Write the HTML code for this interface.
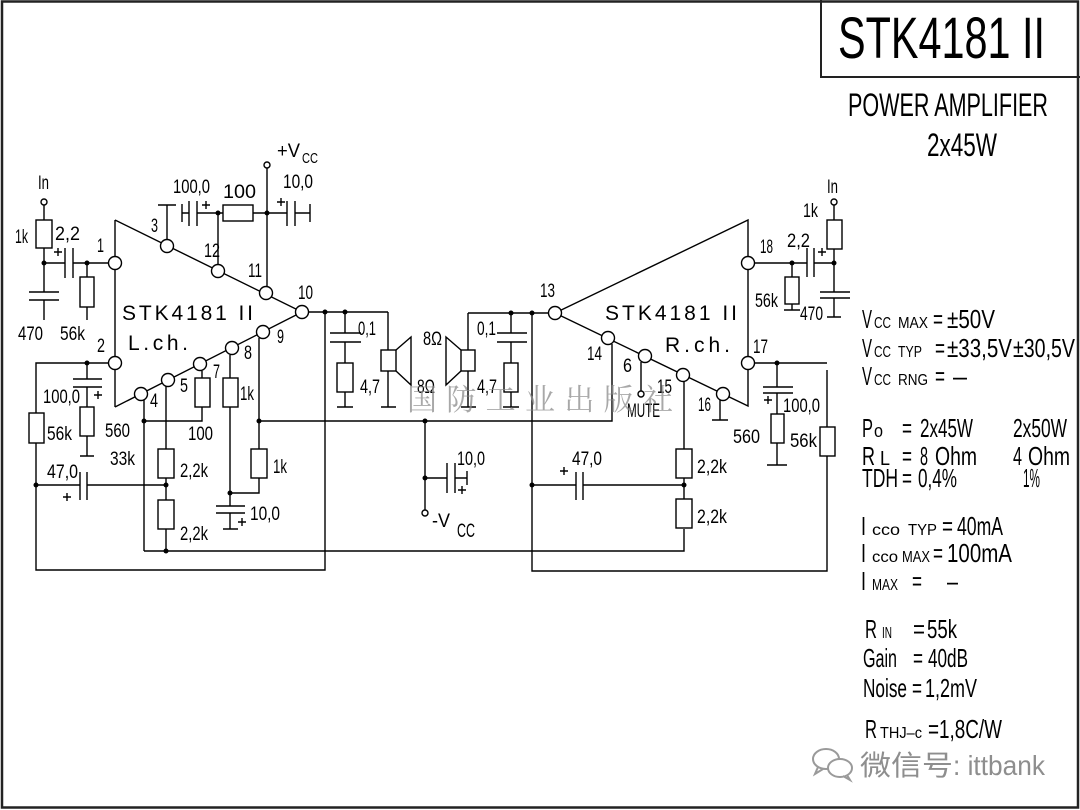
<!DOCTYPE html>
<html><head><meta charset="utf-8"><style>
html,body{margin:0;padding:0;background:#fff}
svg{display:block}
text{font-family:"Liberation Sans","Noto Sans CJK SC",sans-serif;fill:#000}
.t{font-size:19px}
.b{font-size:26px}
.s{font-size:16px}
</style></head><body>
<svg width="1080" height="810" viewBox="0 0 1080 810" xmlns="http://www.w3.org/2000/svg">
<rect x="0" y="0" width="1080" height="810" fill="#fff"/>
<rect x="2" y="1.5" width="1076" height="806" fill="none" stroke="#222" stroke-width="2.5"/>
<path d="M821 0 V77 H1080" fill="none" stroke="#222" stroke-width="2"/>

<g stroke="#000" stroke-width="1.4" fill="none">
<path d="M44 205 V292 M29 292 H59 M29 300 H59 M44 300 V320 M44 263 H65 M65 248 V278 M73 248 V278 M73 263 H108 M87 263 V277 M87 307 V320"/>
<path d="M115 220 V407 M115 220 L302 312 L115 407"/>
<path d="M167 239 V205 M158 205 H176"/>
<path d="M182 204 V222 M182 213 H189 M189 201 V226 M197 201 V226 M197 213 H223 M253 213 H287 M287 201 V226 M295 201 V226 M295 213 H310 M310 204 V222 M218 213 V264 M267 168 V287"/>
<path d="M308 312 H388 M325 312 V570 H36 V363 H108"/>
<path d="M87 363 V379 M73 379 H102 M73 387 H102 M87 387 V407 M87 436 V456 M80 456 H94"/>
<path d="M36 485 H80 M80 472 V500 M87 472 V500 M87 485 H166"/>
<path d="M166 386 V449 M166 478 V500 M166 529 V551"/>
<path d="M144 400 V551 M144 421 H202 V407 M202 371 V378"/>
<path d="M230 355 V378 M230 407 V506 M216 506 H245 M216 513 H245 M230 513 V529 M223 529 H238"/>
<path d="M259 338 V449 M259 478 V493 H230"/>
<path d="M259 421 H612 V344"/>
<path d="M144 551 H684 V529"/>
<path d="M345 312 V333 M330 333 H361 M330 342 H361 M345 342 V363 M345 392 V407 M337 407 H353"/>
<path d="M388 312 V350 M388 371 V407 M381 407 H396 M396 350 L411 337 V385 L396 371"/>
<path d="M468 313 V350 M468 371 V407 M461 407 H476 M461 350 L446 337 V385 L461 371"/>
<path d="M468 313 H548"/>
<path d="M511 313 V333 M497 333 H527 M497 342 H527 M511 342 V363 M511 392 V407 M503 407 H519"/>
<path d="M532 313 V571 H827 V370"/>
<path d="M425 421 V510 M425 478 H447 M447 463 V493 M455 463 V493 M455 478 H467 M467 471 V485"/>
<path d="M555 313 L748 220 V406 L555 313"/>
<path d="M755 263 H807 M807 248 V277 M814 248 V277 M814 263 H834 V249 M834 220 V205 M834 263 V292 M820 292 H850 M820 298 H850 M834 298 V317 M827 317 H841"/>
<path d="M792 263 V277 M792 304 V310 M784 310 H800"/>
<path d="M641 362 V391"/>
<path d="M684 382 V449 M684 478 V499"/>
<path d="M532 485 H576 M576 472 V500 M583 472 V500 M583 485 H684"/>
<path d="M720 400 V420 M712 420 H728"/>
<path d="M755 363 H827 M777 363 V387 M763 387 H793 M763 393 H793 M777 393 V414 M777 443 V465 M767 465 H787"/>
<path d="M54 252 H62 M58 248 V256 M202 205 H210 M206 201 V209 M277 202 H285 M281 198 V206 M94 395 H102 M98 391 V399 M63 497 H71 M67 493 V501 M238 522 H246 M242 518 V526 M458 490 H466 M462 486 V494 M560 471 H568 M564 467 V475 M818 252 H826 M822 248 V256 M764 400 H772 M768 396 V404"/>
</g>

<g stroke="#000" stroke-width="1.4" fill="#fff">
<rect x="36" y="220" width="16" height="28"/>
<rect x="80" y="277" width="14" height="30"/>
<rect x="223" y="205" width="30" height="16"/>
<rect x="80" y="407" width="14" height="29"/>
<rect x="29" y="413" width="15" height="30"/>
<rect x="158" y="449" width="16" height="29"/>
<rect x="158" y="500" width="16" height="29"/>
<rect x="195" y="378" width="15" height="29"/>
<rect x="223" y="378" width="15" height="29"/>
<rect x="251" y="449" width="16" height="29"/>
<rect x="337" y="363" width="16" height="29"/>
<rect x="381" y="350" width="15" height="21"/>
<rect x="461" y="350" width="14" height="21"/>
<rect x="504" y="363" width="14" height="29"/>
<rect x="827" y="220" width="15" height="29"/>
<rect x="785" y="277" width="14" height="27"/>
<rect x="676" y="449" width="16" height="29"/>
<rect x="676" y="499" width="16" height="29"/>
<rect x="771" y="414" width="13" height="29"/>
<rect x="820" y="427" width="15" height="29"/>
</g>

<g stroke="#000" stroke-width="1.4" fill="#fff">
<circle cx="115" cy="263" r="6.5"/><circle cx="115" cy="363" r="6.5"/>
<circle cx="167" cy="246" r="6.5"/><circle cx="218" cy="271" r="6.5"/>
<circle cx="266" cy="293" r="6.5"/><circle cx="302" cy="312" r="6.5"/>
<circle cx="263" cy="332" r="6.5"/><circle cx="232" cy="348" r="6.5"/>
<circle cx="200" cy="364" r="6.5"/><circle cx="168" cy="380" r="6.5"/>
<circle cx="141" cy="394" r="6.5"/>
<circle cx="555" cy="313" r="6.5"/><circle cx="748" cy="263" r="6.5"/>
<circle cx="748" cy="363" r="6.5"/><circle cx="608" cy="338" r="6.5"/>
<circle cx="645" cy="356" r="6.5"/><circle cx="683" cy="375" r="6.5"/>
<circle cx="723" cy="394" r="6.5"/>
<circle cx="44" cy="202" r="3"/><circle cx="267" cy="165" r="3"/>
<circle cx="425" cy="513" r="3"/><circle cx="834" cy="202" r="3"/>
<circle cx="641" cy="394" r="3"/>
</g>
<g fill="#000">
<circle cx="44" cy="263" r="2.5"/><circle cx="87" cy="263" r="2.5"/>
<circle cx="218" cy="213" r="2.5"/><circle cx="267" cy="213" r="2.5"/>
<circle cx="325" cy="312" r="2.5"/><circle cx="345" cy="312" r="2.5"/>
<circle cx="87" cy="363" r="2.5"/><circle cx="36" cy="485" r="2.5"/>
<circle cx="166" cy="485" r="2.5"/><circle cx="166" cy="551" r="2.5"/>
<circle cx="144" cy="421" r="2.5"/><circle cx="230" cy="493" r="2.5"/>
<circle cx="259" cy="421" r="2.5"/><circle cx="425" cy="421" r="2.5"/>
<circle cx="425" cy="478" r="2.5"/><circle cx="511" cy="313" r="2.5"/>
<circle cx="532" cy="313" r="2.5"/><circle cx="532" cy="485" r="2.5"/>
<circle cx="684" cy="485" r="2.5"/><circle cx="792" cy="263" r="2.5"/>
<circle cx="834" cy="263" r="2.5"/><circle cx="777" cy="363" r="2.5"/>
</g>

<g class="t">
<text x="38" y="189" textLength="11" lengthAdjust="spacingAndGlyphs">In</text>
<text x="15" y="243" textLength="13" lengthAdjust="spacingAndGlyphs">1k</text>
<text x="55" y="240" textLength="25" lengthAdjust="spacingAndGlyphs">2,2</text>
<text x="97" y="252" textLength="7" lengthAdjust="spacingAndGlyphs">1</text>
<text x="18" y="340" textLength="25" lengthAdjust="spacingAndGlyphs">470</text>
<text x="60" y="340" textLength="25" lengthAdjust="spacingAndGlyphs">56k</text>
<text x="151" y="232" textLength="7" lengthAdjust="spacingAndGlyphs">3</text>
<text x="173" y="193" textLength="37" lengthAdjust="spacingAndGlyphs">100,0</text>
<text x="223" y="198" textLength="33" lengthAdjust="spacingAndGlyphs">100</text>
<text x="283" y="188" textLength="30" lengthAdjust="spacingAndGlyphs">10,0</text>
<text x="277" y="157" textLength="23" lengthAdjust="spacingAndGlyphs">+V</text>
<text x="302" y="163" textLength="16" lengthAdjust="spacingAndGlyphs" style="font-size:15px">CC</text>
<text x="204" y="257" textLength="16" lengthAdjust="spacingAndGlyphs">12</text>
<text x="248" y="277" textLength="14" lengthAdjust="spacingAndGlyphs">11</text>
<text x="298" y="299" textLength="15" lengthAdjust="spacingAndGlyphs">10</text>
<text x="277" y="343" textLength="7" lengthAdjust="spacingAndGlyphs">9</text>
<text x="244" y="359" textLength="8" lengthAdjust="spacingAndGlyphs">8</text>
<text x="213" y="378" textLength="7" lengthAdjust="spacingAndGlyphs">7</text>
<text x="180" y="392" textLength="8" lengthAdjust="spacingAndGlyphs">5</text>
<text x="150" y="407" textLength="8" lengthAdjust="spacingAndGlyphs">4</text>
<text x="97" y="352" textLength="8" lengthAdjust="spacingAndGlyphs">2</text>
<text x="122" y="320" textLength="131" lengthAdjust="spacing" style="font-size:21px">STK4181  II</text>
<text x="128" y="350" textLength="60" lengthAdjust="spacing" style="font-size:21px">L.ch.</text>
<text x="43" y="403" textLength="37" lengthAdjust="spacingAndGlyphs">100,0</text>
<text x="47" y="440" textLength="25" lengthAdjust="spacingAndGlyphs">56k</text>
<text x="105" y="437" textLength="25" lengthAdjust="spacingAndGlyphs">560</text>
<text x="110" y="465" textLength="25" lengthAdjust="spacingAndGlyphs">33k</text>
<text x="188" y="440" textLength="25" lengthAdjust="spacingAndGlyphs">100</text>
<text x="240" y="400" textLength="14" lengthAdjust="spacingAndGlyphs">1k</text>
<text x="47" y="478" textLength="31" lengthAdjust="spacingAndGlyphs">47,0</text>
<text x="180" y="477" textLength="28" lengthAdjust="spacingAndGlyphs">2,2k</text>
<text x="180" y="540" textLength="28" lengthAdjust="spacingAndGlyphs">2,2k</text>
<text x="273" y="473" textLength="14" lengthAdjust="spacingAndGlyphs">1k</text>
<text x="250" y="520" textLength="30" lengthAdjust="spacingAndGlyphs">10,0</text>
<text x="358" y="335" textLength="18" lengthAdjust="spacingAndGlyphs">0,1</text>
<text x="360" y="393" textLength="20" lengthAdjust="spacingAndGlyphs">4,7</text>
<text x="417" y="393" textLength="18" lengthAdjust="spacingAndGlyphs">8Ω</text>
<text x="423" y="345" textLength="19" lengthAdjust="spacingAndGlyphs">8Ω</text>
<text x="477" y="335" textLength="19" lengthAdjust="spacingAndGlyphs">0,1</text>
<text x="477" y="393" textLength="20" lengthAdjust="spacingAndGlyphs">4,7</text>
<text x="457" y="465" textLength="28" lengthAdjust="spacingAndGlyphs">10,0</text>
<text x="432" y="527" textLength="18" lengthAdjust="spacingAndGlyphs">-V</text>
<text x="457" y="537" textLength="18" lengthAdjust="spacingAndGlyphs">CC</text>
<text x="827" y="193" textLength="11" lengthAdjust="spacingAndGlyphs">In</text>
<text x="803" y="217" textLength="15" lengthAdjust="spacingAndGlyphs">1k</text>
<text x="787" y="247" textLength="23" lengthAdjust="spacingAndGlyphs">2,2</text>
<text x="760" y="253" textLength="13" lengthAdjust="spacingAndGlyphs">18</text>
<text x="755" y="307" textLength="23" lengthAdjust="spacingAndGlyphs">56k</text>
<text x="800" y="320" textLength="23" lengthAdjust="spacingAndGlyphs">470</text>
<text x="540" y="297" textLength="15" lengthAdjust="spacingAndGlyphs">13</text>
<text x="605" y="320" textLength="132" lengthAdjust="spacing" style="font-size:21px">STK4181  II</text>
<text x="665" y="352" textLength="65" lengthAdjust="spacing" style="font-size:21px">R.ch.</text>
<text x="753" y="353" textLength="15" lengthAdjust="spacingAndGlyphs">17</text>
<text x="587" y="360" textLength="15" lengthAdjust="spacingAndGlyphs">14</text>
<text x="623" y="372" textLength="9" lengthAdjust="spacingAndGlyphs">6</text>
<text x="657" y="393" textLength="15" lengthAdjust="spacingAndGlyphs">15</text>
<text x="698" y="411" textLength="13" lengthAdjust="spacingAndGlyphs">16</text>
<text x="627" y="417" textLength="33" lengthAdjust="spacingAndGlyphs">MUTE</text>
<text x="572" y="465" textLength="30" lengthAdjust="spacingAndGlyphs">47,0</text>
<text x="697" y="473" textLength="30" lengthAdjust="spacingAndGlyphs">2,2k</text>
<text x="697" y="523" textLength="30" lengthAdjust="spacingAndGlyphs">2,2k</text>
<text x="783" y="412" textLength="37" lengthAdjust="spacingAndGlyphs">100,0</text>
<text x="733" y="443" textLength="27" lengthAdjust="spacingAndGlyphs">560</text>
<text x="790" y="447" textLength="27" lengthAdjust="spacingAndGlyphs">56k</text>
</g>

<text x="838" y="58" textLength="207" lengthAdjust="spacingAndGlyphs" style="font-size:58px">STK4181 II</text>
<text x="848" y="116" textLength="200" lengthAdjust="spacingAndGlyphs" style="font-size:32px">POWER AMPLIFIER</text>
<text x="927" y="156" textLength="70" lengthAdjust="spacingAndGlyphs" style="font-size:32px">2x45W</text>

<g>
<text class="b" x="862" y="328" textLength="10" lengthAdjust="spacingAndGlyphs">V</text><text class="s" x="874" y="328" textLength="17" lengthAdjust="spacingAndGlyphs">CC</text><text class="s" x="898" y="328" textLength="30" lengthAdjust="spacingAndGlyphs">MAX</text><text class="b" x="933" y="328" textLength="10" lengthAdjust="spacingAndGlyphs">=</text><text class="b" x="947" y="328" textLength="48" lengthAdjust="spacingAndGlyphs">±50V</text>
<text class="b" x="862" y="357" textLength="10" lengthAdjust="spacingAndGlyphs">V</text><text class="s" x="874" y="357" textLength="17" lengthAdjust="spacingAndGlyphs">CC</text><text class="s" x="898" y="357" textLength="24" lengthAdjust="spacingAndGlyphs">TYP</text><text class="b" x="935" y="357" textLength="10" lengthAdjust="spacingAndGlyphs">=</text><text class="b" x="947" y="357" textLength="65" lengthAdjust="spacingAndGlyphs">±33,5V</text><text class="b" x="1013" y="357" textLength="62" lengthAdjust="spacingAndGlyphs">±30,5V</text>
<text class="b" x="862" y="385" textLength="10" lengthAdjust="spacingAndGlyphs">V</text><text class="s" x="874" y="385" textLength="17" lengthAdjust="spacingAndGlyphs">CC</text><text class="s" x="898" y="385" textLength="30" lengthAdjust="spacingAndGlyphs">RNG</text><text class="b" x="935" y="385" textLength="10" lengthAdjust="spacingAndGlyphs">=</text><text class="b" x="953" y="385" textLength="14" lengthAdjust="spacingAndGlyphs">–</text>

<text class="b" x="862" y="437" textLength="11" lengthAdjust="spacingAndGlyphs">P</text><text x="874" y="437" textLength="9" lengthAdjust="spacingAndGlyphs" style="font-size:18px">o</text><text class="b" x="902" y="437" textLength="10" lengthAdjust="spacingAndGlyphs">=</text><text class="b" x="920" y="437" textLength="53" lengthAdjust="spacingAndGlyphs">2x45W</text><text class="b" x="1013" y="437" textLength="54" lengthAdjust="spacingAndGlyphs">2x50W</text>
<text class="b" x="862" y="465" textLength="13" lengthAdjust="spacingAndGlyphs">R</text><text x="880" y="465" textLength="10" lengthAdjust="spacingAndGlyphs" style="font-size:20px">L</text><text class="b" x="902" y="465" textLength="10" lengthAdjust="spacingAndGlyphs">=</text><text class="b" x="920" y="465" textLength="8" lengthAdjust="spacingAndGlyphs">8</text><text class="b" x="935" y="465" textLength="42" lengthAdjust="spacingAndGlyphs">Ohm</text><text class="b" x="1013" y="465" textLength="9" lengthAdjust="spacingAndGlyphs">4</text><text class="b" x="1028" y="465" textLength="42" lengthAdjust="spacingAndGlyphs">Ohm</text>
<text class="b" x="862" y="487" textLength="36" lengthAdjust="spacingAndGlyphs">TDH</text><text class="b" x="902" y="487" textLength="10" lengthAdjust="spacingAndGlyphs">=</text><text class="b" x="918" y="487" textLength="39" lengthAdjust="spacingAndGlyphs">0,4%</text><text class="b" x="1023" y="487" textLength="17" lengthAdjust="spacingAndGlyphs">1%</text>

<text class="b" x="861" y="535" textLength="5" lengthAdjust="spacingAndGlyphs">I</text><text class="s" x="872" y="535" textLength="28" lengthAdjust="spacingAndGlyphs">cco</text><text class="s" x="908" y="535" textLength="29" lengthAdjust="spacingAndGlyphs">TYP</text><text class="b" x="942" y="535" textLength="11" lengthAdjust="spacingAndGlyphs">=</text><text class="b" x="957" y="535" textLength="46" lengthAdjust="spacingAndGlyphs">40mA</text>
<text class="b" x="861" y="562" textLength="5" lengthAdjust="spacingAndGlyphs">I</text><text class="s" x="872" y="562" textLength="26" lengthAdjust="spacingAndGlyphs">cco</text><text class="s" x="902" y="562" textLength="28" lengthAdjust="spacingAndGlyphs">MAX</text><text class="b" x="933" y="562" textLength="10" lengthAdjust="spacingAndGlyphs">=</text><text class="b" x="947" y="562" textLength="65" lengthAdjust="spacingAndGlyphs">100mA</text>
<text class="b" x="861" y="590" textLength="5" lengthAdjust="spacingAndGlyphs">I</text><text class="s" x="872" y="590" textLength="26" lengthAdjust="spacingAndGlyphs">MAX</text><text class="b" x="912" y="590" textLength="10" lengthAdjust="spacingAndGlyphs">=</text><text class="b" x="947" y="590" textLength="11" lengthAdjust="spacingAndGlyphs">–</text>

<text class="b" x="865" y="638" textLength="12" lengthAdjust="spacingAndGlyphs">R</text><text class="s" x="882" y="638" textLength="10" lengthAdjust="spacingAndGlyphs">IN</text><text class="b" x="913" y="638" textLength="12" lengthAdjust="spacingAndGlyphs">=</text><text class="b" x="927" y="638" textLength="30" lengthAdjust="spacingAndGlyphs">55k</text>
<text class="b" x="863" y="667" textLength="34" lengthAdjust="spacingAndGlyphs">Gain</text><text class="b" x="913" y="667" textLength="10" lengthAdjust="spacingAndGlyphs">=</text><text class="b" x="928" y="667" textLength="40" lengthAdjust="spacingAndGlyphs">40dB</text>
<text class="b" x="863" y="697" textLength="44" lengthAdjust="spacingAndGlyphs">Noise</text><text class="b" x="912" y="697" textLength="10" lengthAdjust="spacingAndGlyphs">=</text><text class="b" x="925" y="697" textLength="52" lengthAdjust="spacingAndGlyphs">1,2mV</text>
<text class="b" x="865" y="738" textLength="12" lengthAdjust="spacingAndGlyphs">R</text><text class="s" x="880" y="738" textLength="42" lengthAdjust="spacingAndGlyphs">THJ–c</text><text class="b" x="928" y="738" textLength="74" lengthAdjust="spacingAndGlyphs">=1,8C/W</text>
</g>

<text x="407" y="410" textLength="266" lengthAdjust="spacing" style="font-family:'Noto Serif CJK SC','Noto Sans CJK SC',serif;font-size:30px;fill:#8c8c8c;opacity:0.75">国防工业出版社</text>
<g fill="none" stroke="#9a9a9a" stroke-width="2">
<ellipse cx="826" cy="759" rx="13" ry="10"/>
<ellipse cx="840" cy="768" rx="12" ry="9" fill="#fff"/>
<path d="M818 767 L815 774 L823 769 M847 775 L850 780 L843 776"/>
</g>
<text x="860" y="775" textLength="93" lengthAdjust="spacingAndGlyphs" style="font-family:'Noto Sans CJK SC',sans-serif;font-size:28px;fill:#8e8e8e">微信号</text>
<text x="953" y="775" textLength="92" lengthAdjust="spacingAndGlyphs" style="font-size:28px;fill:#8e8e8e">: ittbank</text>
</svg>
</body></html>
